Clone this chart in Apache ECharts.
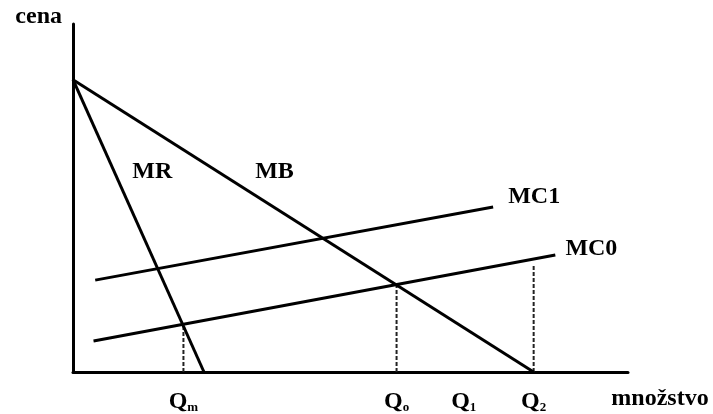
<!DOCTYPE html>
<html>
<head>
<meta charset="utf-8">
<script src="https://cdn.jsdelivr.net/npm/echarts@6/dist/echarts.min.js"></script>
<style>
  html, body { margin: 0; padding: 0; background: #fff; }
  #chart { width: 713px; height: 414px; }
</style>
</head>
<body>
<div id="chart"></div>
<script>
// ---- data (quantity on x, price on y, arbitrary units 0..100) ----
const mbCurve  = [[0, 84], [83, 0]];           // MB (demand / marginal benefit)
const mrCurve  = [[0, 84], [23.6, 0]];         // MR
const mc1Curve = [[4, 26.4], [75.7, 47.4]];    // MC1
const mc0Curve = [[3.7, 8.9], [86.9, 33.6]];   // MC0
const qmDrop   = [[19.9, 0], [19.9, 13.5]];    // Q_m guide
const q0Drop   = [[58.3, 0], [58.3, 25.1]];    // Q_0 guide
const q2Drop   = [[83, 0], [83, 30.5]];        // Q_2 guide
const qTickValues = [19.9, 58.3, 70.4, 83];
const qTickSubs   = ['m', 'o', '1', '2'];
const curveNames  = ['MR', 'MB', 'MC1', 'MC0'];
const curveLabelAt = [[14.3, 57.5], [36.3, 57.5], [83.1, 50.3], [93.4, 35.3]];

const FONT = 'Liberation Serif';
const ink = '#000';

const lineSeries = (name, data) => ({
  name, type: 'line', data, symbol: 'none', silent: true,
  lineStyle: { color: ink, width: 3 }, z: 3
});
const dropSeries = (name, data) => ({
  name, type: 'line', data, symbol: 'none', silent: true,
  lineStyle: { color: '#222', width: 2, type: [4, 2] }, z: 2
});

const chart = echarts.init(document.getElementById('chart'), null, { renderer: 'canvas' });
chart.setOption({
  animation: false,
  backgroundColor: '#fff',
  grid: { left: 73, right: 85, top: 24, bottom: 42 },
  xAxis: {
    type: 'value', min: 0, max: 100,
    name: 'množstvo', nameLocation: 'end', nameGap: 32,
    nameTextStyle: { fontFamily: FONT, fontWeight: 'bold', fontSize: 24, color: ink,
                     align: 'center', verticalAlign: 'top', lineHeight: 24, padding: [15, 0, 0, 0] },
    axisLine: { show: true, lineStyle: { color: ink, width: 3 } },
    axisTick: { show: false },
    splitLine: { show: false },
    axisLabel: {
      customValues: qTickValues,
      margin: 18,
      formatter: (v) => {
        const i = qTickValues.indexOf(v);
        return '{q|Q}{s|' + (i >= 0 ? qTickSubs[i] : '') + '}';
      },
      rich: {
        q: { fontFamily: FONT, fontWeight: 'bold', fontSize: 24, lineHeight: 24, color: ink },
        s: { fontFamily: FONT, fontWeight: 'bold', fontSize: 13, lineHeight: 10, color: ink, verticalAlign: 'bottom' }
      }
    }
  },
  yAxis: {
    type: 'value', min: 0, max: 100,
    name: 'cena', nameLocation: 'end', nameGap: 7,
    nameTextStyle: { fontFamily: FONT, fontWeight: 'bold', fontSize: 24, color: ink,
                     align: 'right', verticalAlign: 'middle', lineHeight: 24, padding: [0, 11, 0, 0] },
    axisLine: { show: true, lineStyle: { color: ink, width: 3 } },
    axisTick: { show: false },
    axisLabel: { show: false },
    splitLine: { show: false }
  },
  series: [
    lineSeries('MB', mbCurve),
    lineSeries('MR', mrCurve),
    lineSeries('MC1', mc1Curve),
    lineSeries('MC0', mc0Curve),
    dropSeries('Qm', qmDrop),
    dropSeries('Q0', q0Drop),
    dropSeries('Q2', q2Drop),
    {
      name: 'labels', type: 'scatter', silent: true, symbolSize: 0,
      itemStyle: { color: ink },
      data: curveLabelAt.map((p, i) => ({ value: p, name: curveNames[i] })),
      label: {
        show: true, position: 'inside', formatter: (p) => p.name,
        fontFamily: FONT, fontWeight: 'bold', fontSize: 24, color: ink,
        textBorderWidth: 0, opacity: 1
      },
      z: 4
    }
  ]
});
</script>
</body>
</html>
